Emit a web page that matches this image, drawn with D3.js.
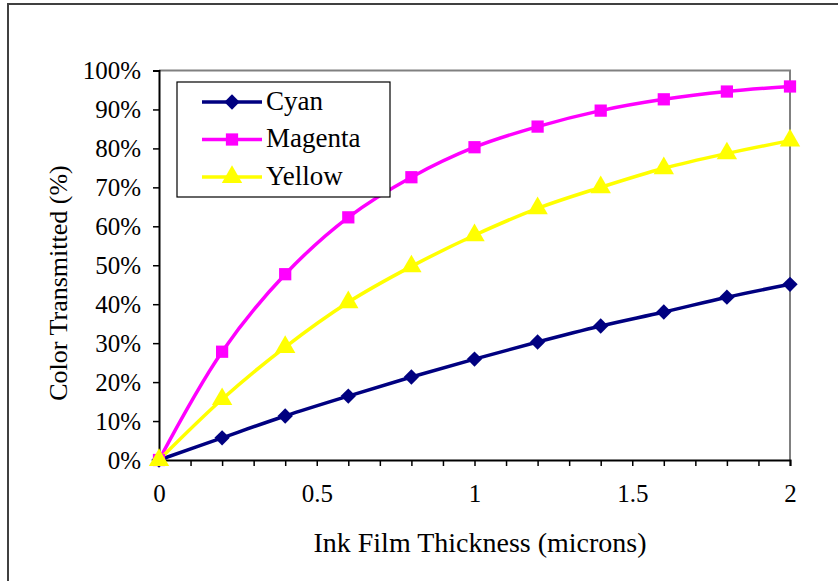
<!DOCTYPE html>
<html lang="en">
<head>
<meta charset="UTF-8" />
<title>Color Transmitted vs Ink Film Thickness</title>
<script src="https://d3js.org/d3.v7.min.js"></script>
<style>
  body { margin: 0; background: #fff; }
  svg { display: block; font-family: "Liberation Serif", "DejaVu Serif", serif; }
</style>
</head>
<body>
<svg id="chart" width="838" height="581"></svg>
<script>
  // data
  const thickness = [0, 0.2, 0.4, 0.6, 0.8, 1.0, 1.2, 1.4, 1.6, 1.8, 2.0];
  const cyan    = [0, 5.7, 11.3, 16.4, 21.3, 25.9, 30.3, 34.4, 38.0, 41.8, 45.1];
  const magenta = [0, 27.8, 47.7, 62.3, 72.6, 80.3, 85.6, 89.7, 92.6, 94.6, 95.9];
  const yellow  = [0, 15.6, 29.0, 40.5, 49.7, 57.7, 64.6, 70.0, 74.9, 78.7, 82.0];
  const yTicks = [0, 10, 20, 30, 40, 50, 60, 70, 80, 90, 100];
  const xLabels = [0, 0.5, 1, 1.5, 2];

  const series = [
    { name: "Cyan",    values: cyan,    color: "#000080", shape: d3.symbolDiamond2, size: 150 },
    { name: "Magenta", values: magenta, color: "#FF00FF", shape: d3.symbolSquare,   size: 150 },
    { name: "Yellow",  values: yellow,  color: "#FFFF00", shape: d3.symbolTriangle, size: 180 }
  ];

  const svg = d3.select("#chart");
  const margin = { left: 159, right: 48, top: 70.5, bottom: 121 };
  const W = 838, H = 581;
  const w = W - margin.left - margin.right;
  const h = H - margin.top - margin.bottom;

  // outer chart border (right and bottom fall outside the picture)
  svg.append("rect")
    .attr("x", 8).attr("y", 4)
    .attr("width", 850).attr("height", 600)
    .attr("fill", "none")
    .attr("stroke", "#404040")
    .attr("stroke-width", 2);

  const x = d3.scaleLinear().domain([0, 2]).range([0, w]);
  const y = d3.scaleLinear().domain([0, 100]).range([h, 0]);

  const g = svg.append("g")
    .attr("transform", `translate(${margin.left},${margin.top})`);

  // gray top/right plot frame
  g.append("path")
    .attr("d", `M0,0H${w}V${h}`)
    .attr("fill", "none")
    .attr("stroke", "#808080")
    .attr("stroke-width", 2);

  // y axis
  const yAxis = g.append("g")
    .call(d3.axisLeft(y).tickValues(yTicks).tickSize(6).tickPadding(12)
      .tickFormat(d => d + "%"));
  yAxis.selectAll("text").attr("font-size", "25px").attr("fill", "#000")
    .attr("font-family", "Liberation Serif");

  // x axis with minor ticks every 0.1
  const xMinor = d3.range(0, 21).map(i => i / 10);
  const xAxis = g.append("g")
    .attr("transform", `translate(0,${h})`)
    .call(d3.axisBottom(x).tickValues(xMinor).tickSize(6).tickPadding(18)
      .tickFormat(d => xLabels.some(v => Math.abs(v - d) < 1e-9) ? d3.format("")(d) : ""));
  xAxis.selectAll("text").attr("font-size", "25px").attr("fill", "#000")
    .attr("font-family", "Liberation Serif");

  g.selectAll(".domain").attr("stroke", "#000").attr("stroke-width", 2);
  g.selectAll(".tick line").attr("stroke", "#000").attr("stroke-width", 1.5);

  // lines
  const line = d3.line()
    .curve(d3.curveCatmullRom.alpha(0.5))
    .x((d, i) => x(thickness[i]))
    .y(d => y(d));

  series.forEach(s => {
    g.append("path")
      .datum(s.values)
      .attr("fill", "none")
      .attr("stroke", s.color)
      .attr("stroke-width", 3.5)
      .attr("d", line);
  });

  series.forEach(s => {
    g.selectAll(null)
      .data(s.values)
      .enter().append("path")
        .attr("transform", (d, i) => `translate(${x(thickness[i])},${y(d)})`)
        .attr("d", d3.symbol().type(s.shape).size(s.size))
        .attr("fill", s.color);
  });

  // axis titles
  svg.append("text")
    .attr("x", 480)
    .attr("y", 552)
    .attr("text-anchor", "middle")
    .attr("font-size", "28px")
    .text("Ink Film Thickness (microns)");

  svg.append("text")
    .attr("transform", "translate(67,283) rotate(-90)")
    .attr("text-anchor", "middle")
    .attr("font-size", "26px")
    .text("Color Transmitted (%)");

  // legend
  const legend = svg.append("g").attr("transform", "translate(177,82)");
  legend.append("rect")
    .attr("width", 213).attr("height", 115)
    .attr("fill", "#fff")
    .attr("stroke", "#000")
    .attr("stroke-width", 1.2);

  series.forEach((s, i) => {
    const yOff = 20 + i * 37.5;
    legend.append("line")
      .attr("x1", 25).attr("x2", 85)
      .attr("y1", yOff).attr("y2", yOff)
      .attr("stroke", s.color).attr("stroke-width", 3.5);
    legend.append("path")
      .attr("transform", `translate(55,${yOff})`)
      .attr("d", d3.symbol().type(s.shape).size(s.size))
      .attr("fill", s.color);
    legend.append("text")
      .attr("x", 89).attr("y", yOff)
      .attr("dy", "0.28em")
      .attr("font-size", "27px")
      .text(s.name);
  });
</script>
</body>
</html>
